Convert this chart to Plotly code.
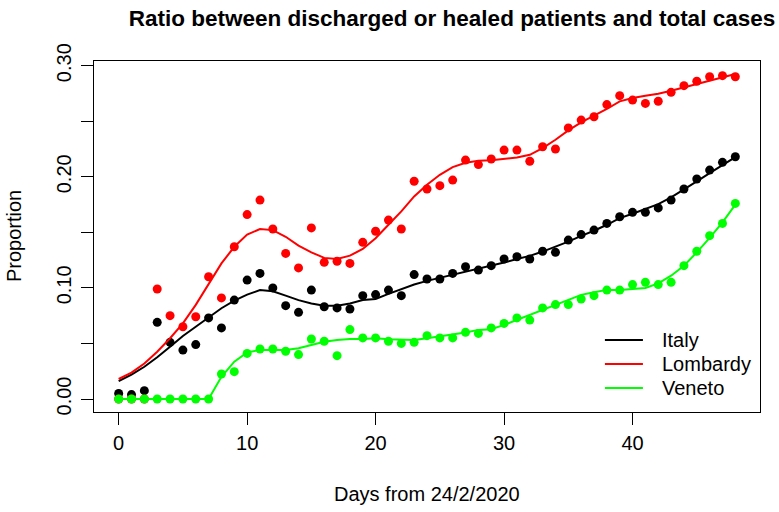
import plotly.graph_objects as go

days = list(range(49))

italy = [0.005, 0.004, 0.0075, 0.069, 0.051, 0.044, 0.049, 0.073, 0.064, 0.089,
         0.107, 0.113, 0.100, 0.084, 0.078, 0.098, 0.083, 0.082, 0.081, 0.093,
         0.094, 0.098, 0.093, 0.112, 0.108, 0.108, 0.113, 0.119, 0.116, 0.120,
         0.126, 0.128, 0.126, 0.133, 0.132, 0.143, 0.148, 0.152, 0.158, 0.164,
         0.168, 0.168, 0.172, 0.179, 0.189, 0.198, 0.206, 0.213, 0.218]

lombardy = [0.0, 0.0, 0.0, 0.099, 0.075, 0.065, 0.074, 0.110, 0.091, 0.137,
            0.166, 0.179, 0.153, 0.131, 0.118, 0.154, 0.123, 0.124, 0.122, 0.141,
            0.151, 0.161, 0.153, 0.196, 0.189, 0.192, 0.197, 0.215, 0.211, 0.216,
            0.224, 0.224, 0.214, 0.227, 0.225, 0.244, 0.251, 0.254, 0.265, 0.273,
            0.269, 0.266, 0.268, 0.276, 0.282, 0.286, 0.290, 0.291, 0.290]

veneto = [0.0, 0.0, 0.0, 0.0, 0.0, 0.0, 0.0, 0.0, 0.0225, 0.0246,
          0.041, 0.045, 0.045, 0.043, 0.040, 0.054, 0.052, 0.039, 0.0625, 0.055,
          0.055, 0.052, 0.050, 0.051, 0.057, 0.055, 0.055, 0.060, 0.059, 0.064,
          0.068, 0.073, 0.071, 0.082, 0.085, 0.085, 0.090, 0.093, 0.098, 0.098,
          0.103, 0.105, 0.103, 0.105, 0.120, 0.133, 0.147, 0.158, 0.176]

italy_fit = [0.016, 0.022, 0.029, 0.0375, 0.047, 0.0567, 0.065, 0.073, 0.0817, 0.0886,
             0.094, 0.098, 0.097, 0.093, 0.089, 0.086, 0.084, 0.084, 0.086, 0.089,
             0.090, 0.0946, 0.099, 0.103, 0.1063, 0.109, 0.1117, 0.1147, 0.1168, 0.120,
             0.1228, 0.126, 0.1288, 0.1327, 0.137, 0.1417, 0.1468, 0.1514, 0.1568, 0.1628,
             0.1667, 0.171, 0.1754, 0.1814, 0.1883, 0.1958, 0.2033, 0.2108, 0.2177]

lombardy_fit = [0.018, 0.0237, 0.032, 0.0426, 0.0547, 0.068, 0.0847, 0.104, 0.122, 0.137,
                0.148, 0.153, 0.152, 0.146, 0.138, 0.132, 0.127, 0.126, 0.129, 0.135,
                0.1447, 0.1568, 0.1688, 0.1823, 0.1928, 0.2018, 0.2087, 0.2126, 0.2144, 0.2148,
                0.216, 0.2174, 0.2198, 0.2258, 0.2333, 0.2417, 0.249, 0.255, 0.261, 0.2679,
                0.2709, 0.273, 0.2748, 0.2775, 0.2805, 0.2835, 0.2865, 0.2895, 0.2925]

veneto_fit = [0.0, 0.0, 0.0, 0.0, 0.0, 0.0, 0.0, 0.0, 0.020, 0.0336,
              0.042, 0.0441, 0.0441, 0.0441, 0.0456, 0.0486, 0.0516, 0.0531, 0.054, 0.054,
              0.0547, 0.0538, 0.0532, 0.0532, 0.0547, 0.0562, 0.0577, 0.0598, 0.0622, 0.0628,
              0.0667, 0.0712, 0.0757, 0.0808, 0.0853, 0.0898, 0.0937, 0.0961, 0.0982, 0.098,
              0.099, 0.100, 0.104, 0.111, 0.120, 0.132, 0.145, 0.159, 0.175]

names = ["Italy", "Lombardy", "Veneto"]
colors = ["#000000", "#FF0000", "#00FF00"]
points = [italy, lombardy, veneto]
fits = [italy_fit, lombardy_fit, veneto_fit]

x_ticks = [0, 10, 20, 30, 40]
y_ticks = [0.0, 0.05, 0.10, 0.15, 0.20, 0.25, 0.30]
y_ticktext = ["0.00", "", "0.10", "", "0.20", "", "0.30"]

FONT = "Liberation Sans, Arial, sans-serif"

# plot-area geometry in pixels (for placing text/legend in paper coords)
L, R, T, B = 94.4, 760.0, 61.3, 412.0
W, H = 779, 512


def px_x(p):
    return (p - L) / (R - L)


def px_y(p):
    return (B - p) / (B - T)


fig = go.Figure()
for name, col, pts, fit in zip(names, colors, points, fits):
    fig.add_trace(go.Scatter(x=days, y=pts, mode="markers",
                             marker=dict(color=col, size=9, line=dict(width=0)),
                             showlegend=False, hoverinfo="skip"))
    fig.add_trace(go.Scatter(x=days, y=fit, mode="lines", name=name,
                             line=dict(color=col, width=2), showlegend=False))

# legend (R style, no box)
legend_rows = [340, 364, 388]
shapes = []
annotations = []
for name, col, row in zip(names, colors, legend_rows):
    shapes.append(dict(type="line", xref="paper", yref="paper",
                       x0=px_x(605), x1=px_x(643), y0=px_y(row), y1=px_y(row),
                       line=dict(color=col, width=2)))
    annotations.append(dict(text=name, xref="paper", yref="paper",
                            x=px_x(660), y=px_y(row), xanchor="left", yanchor="middle",
                            showarrow=False, font=dict(size=20)))

annotations += [
    dict(text="Days from 24/2/2020", xref="paper", yref="paper",
         x=0.5, y=px_y(494), xanchor="center", yanchor="middle",
         showarrow=False, font=dict(size=20)),
    dict(text="Proportion", xref="paper", yref="paper",
         x=px_x(14), y=0.5, xanchor="center", yanchor="middle",
         textangle=-90, showarrow=False, font=dict(size=20)),
]

fig.update_layout(
    width=W, height=H,
    margin=dict(l=L, r=W - R, t=T, b=H - B, autoexpand=False),
    paper_bgcolor="white", plot_bgcolor="white",
    font=dict(family=FONT, size=20, color="black"),
    title=dict(text="<b>Ratio between discharged or healed patients and total cases</b>",
               xref="container", x=452 / W, xanchor="center",
               yref="container", y=1 - 18 / H, yanchor="middle",
               font=dict(size=22.5, family=FONT, color="black")),
    showlegend=False,
    shapes=shapes,
    annotations=annotations,
    xaxis=dict(range=[-1.92, 49.92], tickmode="array", tickvals=x_ticks,
               ticks="outside", ticklen=12, tickwidth=1, tickcolor="black",
               showline=True, linecolor="black", linewidth=1, mirror=True,
               showgrid=False, zeroline=False, ticklabelstandoff=1,
               automargin=False, tickfont=dict(size=20)),
    yaxis=dict(range=[-0.0117, 0.3042], tickmode="array", tickvals=y_ticks,
               ticktext=y_ticktext, tickangle=-90,
               ticks="outside", ticklen=12, tickwidth=1, tickcolor="black",
               showline=True, linecolor="black", linewidth=1, mirror=True,
               showgrid=False, zeroline=False, ticklabelstandoff=2,
               automargin=False, tickfont=dict(size=20)),
)

fig.write_html("out.html", config={"displayModeBar": False},
               post_script="document.body.style.margin='0px';")
